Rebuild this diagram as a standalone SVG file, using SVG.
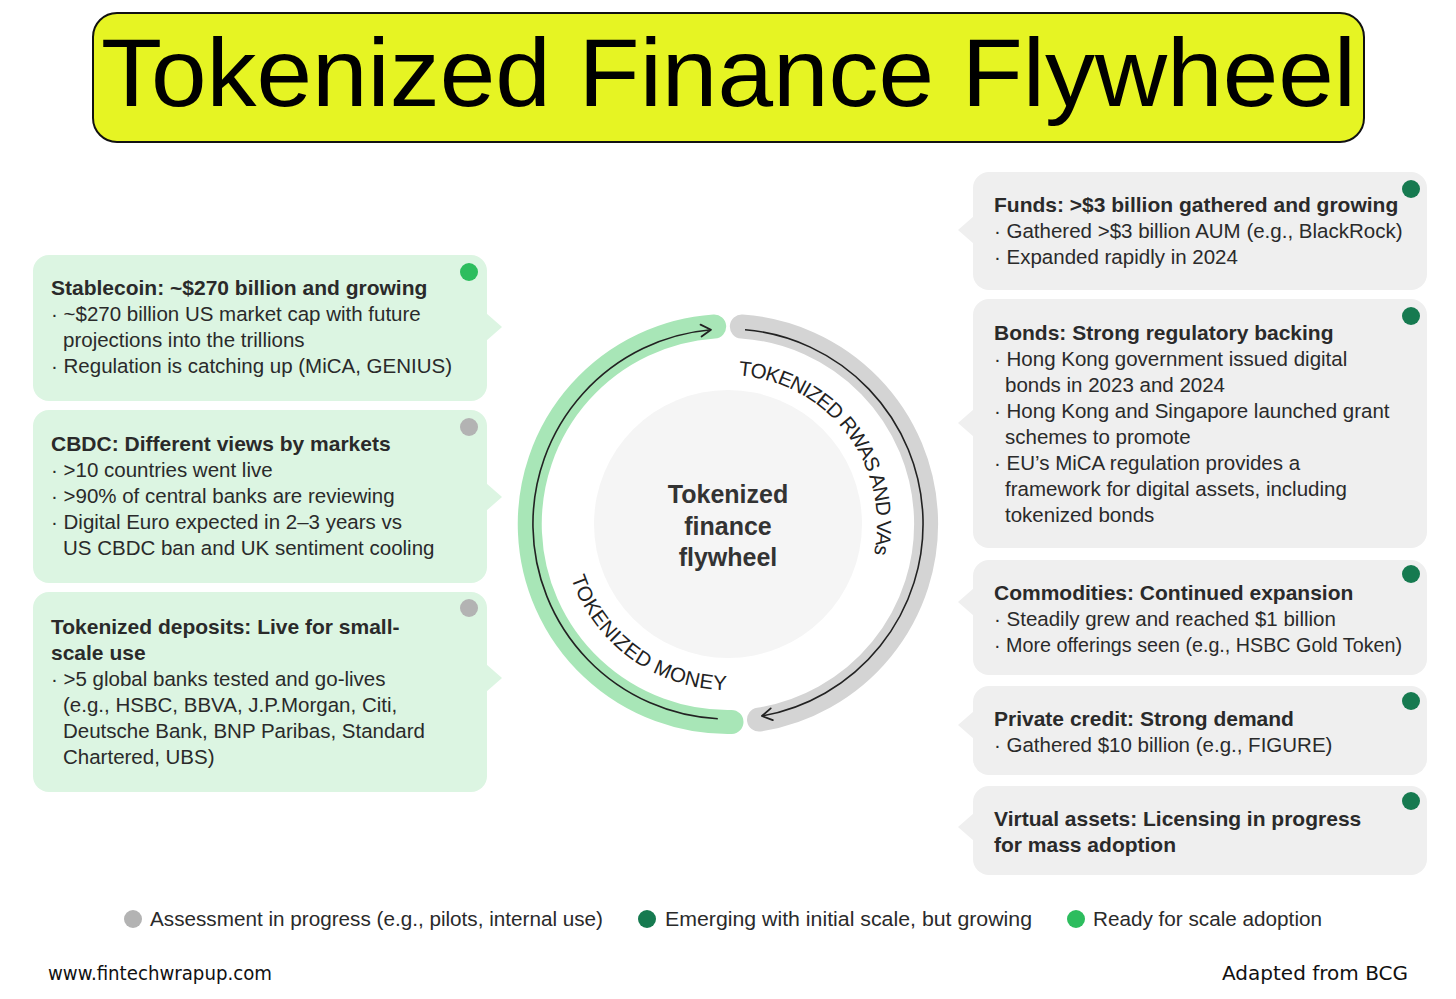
<svg xmlns="http://www.w3.org/2000/svg" width="1456" height="999" viewBox="0 0 1456 999">
<style>
  text { font-family: "Liberation Sans", Arial, sans-serif; fill: #2a2a2a; }
  .t { font-size: 21px; font-weight: bold; }
  .b { font-size: 20.5px; }
  .boxg { fill: #dcf5e2; }
  .boxr { fill: #efefef; }
  .dotB { fill: #2dbd5e; }
  .dotD { fill: #167a50; }
  .dotG { fill: #b3b3b3; }
  .arc { font-size: 20.5px; fill: #222; }
  .hand { font-family: "DejaVu Sans", sans-serif; fill: #111; }
</style>
<defs>
  <marker id="chev" viewBox="0 0 12 14" refX="11" refY="7" markerWidth="12" markerHeight="14" markerUnits="userSpaceOnUse" orient="auto" overflow="visible">
    <path d="M1,1 L11,7 L1,13" fill="none" stroke="#222" stroke-width="1.8" stroke-linecap="round" stroke-linejoin="round"/>
  </marker>
  <path id="rwasPath" d="M738.4,375.4 A149,149 0 0 1 871.2,565.1" fill="none"/>
  <path id="moneyPath" d="M571,578 A166,166 0 0 0 742.5,689.4" fill="none"/>
</defs>
<rect width="1456" height="999" fill="#ffffff"/>

<g id="title">
  <rect x="93" y="13" width="1271" height="129" rx="24" fill="#e6f423" stroke="#111" stroke-width="2"/>
  <text x="101" y="106" font-size="96" textLength="1255" lengthAdjust="spacingAndGlyphs" style="fill:#000">Tokenized Finance Flywheel</text>
</g>

<g id="stablecoin">
  <rect class="boxg" x="33" y="255" width="454" height="146" rx="16"/>
  <polygon class="boxg" points="486,313 502,327 486,341"/>
  <circle class="dotB" cx="469" cy="272" r="9"/>
  <text class="t" x="51" y="295">Stablecoin: ~$270 billion and growing</text>
  <text class="b" x="51" y="321">· ~$270 billion US market cap with future</text>
  <text class="b" x="63" y="347">projections into the trillions</text>
  <text class="b" x="51" y="373">· Regulation is catching up (MiCA, GENIUS)</text>
</g>

<g id="cbdc">
  <rect class="boxg" x="33" y="410" width="454" height="173" rx="16"/>
  <polygon class="boxg" points="486,483 502,497 486,511"/>
  <circle class="dotG" cx="469" cy="427" r="9"/>
  <text class="t" x="51" y="451">CBDC: Different views by markets</text>
  <text class="b" x="51" y="477">· &gt;10 countries went live</text>
  <text class="b" x="51" y="503">· &gt;90% of central banks are reviewing</text>
  <text class="b" x="51" y="529">· Digital Euro expected in 2–3 years vs</text>
  <text class="b" x="63" y="555">US CBDC ban and UK sentiment cooling</text>
</g>

<g id="deposits">
  <rect class="boxg" x="33" y="592" width="454" height="200" rx="16"/>
  <polygon class="boxg" points="486,664 502,678 486,692"/>
  <circle class="dotG" cx="469" cy="608" r="9"/>
  <text class="t" x="51" y="634">Tokenized deposits: Live for small-</text>
  <text class="t" x="51" y="660">scale use</text>
  <text class="b" x="51" y="686">· &gt;5 global banks tested and go-lives</text>
  <text class="b" x="63" y="712">(e.g., HSBC, BBVA, J.P.Morgan, Citi,</text>
  <text class="b" x="63" y="738">Deutsche Bank, BNP Paribas, Standard</text>
  <text class="b" x="63" y="764">Chartered, UBS)</text>
</g>

<g id="funds">
  <rect class="boxr" x="973" y="172" width="454" height="118" rx="16"/>
  <polygon class="boxr" points="974,216 958,230 974,244"/>
  <circle class="dotD" cx="1411" cy="189" r="9"/>
  <text class="t" x="994" y="212">Funds: &gt;$3 billion gathered and growing</text>
  <text class="b" x="994" y="238">· Gathered &gt;$3 billion AUM (e.g., BlackRock)</text>
  <text class="b" x="994" y="264">· Expanded rapidly in 2024</text>
</g>

<g id="bonds">
  <rect class="boxr" x="973" y="299" width="454" height="249" rx="16"/>
  <polygon class="boxr" points="974,409 958,423 974,437"/>
  <circle class="dotD" cx="1411" cy="316" r="9"/>
  <text class="t" x="994" y="340">Bonds: Strong regulatory backing</text>
  <text class="b" x="994" y="366">· Hong Kong government issued digital</text>
  <text class="b" x="1005" y="392">bonds in 2023 and 2024</text>
  <text class="b" x="994" y="418">· Hong Kong and Singapore launched grant</text>
  <text class="b" x="1005" y="444">schemes to promote</text>
  <text class="b" x="994" y="470">· EU’s MiCA regulation provides a</text>
  <text class="b" x="1005" y="496">framework for digital assets, including</text>
  <text class="b" x="1005" y="522">tokenized bonds</text>
</g>

<g id="commodities">
  <rect class="boxr" x="973" y="560" width="454" height="115" rx="16"/>
  <polygon class="boxr" points="974,588 958,602 974,616"/>
  <circle class="dotD" cx="1411" cy="574" r="9"/>
  <text class="t" x="994" y="600">Commodities: Continued expansion</text>
  <text class="b" x="994" y="626">· Steadily grew and reached $1 billion</text>
  <text class="b" x="994" y="652" textLength="408" lengthAdjust="spacingAndGlyphs">· More offerings seen (e.g., HSBC Gold Token)</text>
</g>

<g id="private-credit">
  <rect class="boxr" x="973" y="686" width="454" height="89" rx="16"/>
  <polygon class="boxr" points="974,711 958,725 974,739"/>
  <circle class="dotD" cx="1411" cy="701" r="9"/>
  <text class="t" x="994" y="726">Private credit: Strong demand</text>
  <text class="b" x="994" y="752">· Gathered $10 billion (e.g., FIGURE)</text>
</g>

<g id="virtual-assets">
  <rect class="boxr" x="973" y="786" width="454" height="89" rx="16"/>
  <polygon class="boxr" points="974,813 958,827 974,841"/>
  <circle class="dotD" cx="1411" cy="801" r="9"/>
  <text class="t" x="994" y="826">Virtual assets: Licensing in progress</text>
  <text class="t" x="994" y="852">for mass adoption</text>
</g>

<g id="flywheel">
  <circle cx="728" cy="524" r="134" fill="#f5f5f5"/>
  <path d="M731.5,722 A198,198 0 0 1 714.2,326.5" fill="none" stroke="#a8e6b7" stroke-width="24" stroke-linecap="round"/>
  <path d="M741.8,326.5 A198,198 0 0 1 759,719.6" fill="none" stroke="#d4d4d4" stroke-width="24" stroke-linecap="round"/>
  <text x="728" y="503" text-anchor="middle" font-size="25" font-weight="bold" style="fill:#333">Tokenized</text>
  <text x="728" y="535" text-anchor="middle" font-size="25" font-weight="bold" style="fill:#333">finance</text>
  <text x="728" y="566" text-anchor="middle" font-size="25" font-weight="bold" style="fill:#333">flywheel</text>
  <text class="arc"><textPath href="#rwasPath" textLength="254" lengthAdjust="spacing">TOKENIZED RWAS AND VAs</textPath></text>
  <text class="arc"><textPath href="#moneyPath" textLength="204" lengthAdjust="spacing">TOKENIZED MONEY</textPath></text>
</g>

<g id="connectors">
  <path d="M717.8,718.7 A195,195 0 0 1 711,329.7" fill="none" stroke="#222" stroke-width="1.6" marker-end="url(#chev)"/>
  <path d="M745,329.7 A195,195 0 0 1 761.9,716" fill="none" stroke="#222" stroke-width="1.6" marker-end="url(#chev)"/>
</g>

<g id="legend">
  <circle class="dotG" cx="133" cy="919" r="9"/>
  <text class="b" x="150" y="926" textLength="453" lengthAdjust="spacingAndGlyphs">Assessment in progress (e.g., pilots, internal use)</text>
  <circle class="dotD" cx="647" cy="919" r="9"/>
  <text class="b" x="665" y="926" textLength="367" lengthAdjust="spacingAndGlyphs">Emerging with initial scale, but growing</text>
  <circle class="dotB" cx="1076" cy="919" r="9"/>
  <text class="b" x="1093" y="926" textLength="229" lengthAdjust="spacingAndGlyphs">Ready for scale adoption</text>
</g>

<g id="footer">
  <text class="hand" x="48" y="980" font-size="20" textLength="224" lengthAdjust="spacingAndGlyphs">www.fintechwrapup.com</text>
  <text class="hand" x="1222" y="980" font-size="20" textLength="186" lengthAdjust="spacingAndGlyphs">Adapted from BCG</text>
</g>
</svg>
